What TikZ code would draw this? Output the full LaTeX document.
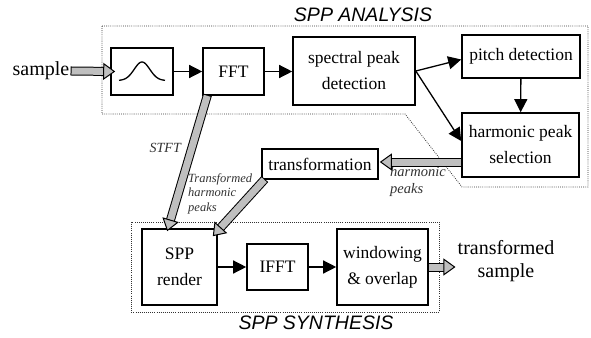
\documentclass[tikz,border=0pt]{standalone}
\usepackage{fontspec}
\setmainfont{Liberation Serif}
\newfontfamily\timesfont{Liberation Serif}
\newfontfamily\arialfont{Liberation Sans}
\usetikzlibrary{arrows.meta,calc}
\definecolor{fatgray}{gray}{0.75}
\newcommand\fatarrow[2]{\draw[fatout] #1 -- #2; \draw[fatin] #1 -- #2;}
\begin{document}
\begin{tikzpicture}[x=1pt,y=-1pt,
  box/.style={draw=black, line width=1.6pt, inner sep=0pt, align=center, font=\timesfont\fontsize{17.5}{26}\selectfont, text=black},
  arr/.style={line width=1.3pt, -{Triangle[length=13pt,width=13pt]}},
  zone/.style={draw=black!80, line width=0.8pt, dash pattern=on 0.8pt off 1.3pt},
  outer/.style={font=\timesfont\fontsize{20}{23}\selectfont, align=center, inner sep=2pt, text=black},
  ital/.style={text=black!80, align=left, inner sep=0pt},
  title/.style={font=\arialfont\itshape\fontsize{19.5}{22}\selectfont, inner sep=0pt},
  fatout/.style={line width=9pt, draw=black, shorten >=7pt, shorten <=-1pt},
  fatin/.style={line width=7pt, draw=fatgray, -{Triangle[length=12pt,width=17pt,line width=1pt 0 0,color=black,fill=fatgray]}},
]
\fill[white] (0,0) rectangle (591,337);
\useasboundingbox (0,0) rectangle (591,337);
% zones
\draw[zone] (102,26) -- (588,26) -- (588,187) -- (462,187) -- (405,114) -- (102,114) -- cycle;
\draw[zone] (131,222) rectangle (439,312);
% boxes
\node[box, minimum width=62pt, minimum height=47pt] (filt) at (142,71.5) {};
\node[box, minimum width=61pt, minimum height=47pt] (fft) at (233.5,71.5) {FFT};
\node[box, minimum width=122pt, minimum height=68pt] (spd) at (354,71) {spectral peak\\detection};
\node[box, minimum width=118pt, minimum height=43pt] (pitch) at (521,56.5) {pitch detection};
\node[box, minimum width=117pt, minimum height=64pt] (hps) at (520.5,145) {harmonic peak\\selection};
\node[box, minimum width=116pt, minimum height=30pt] (trans) at (320,164) {transformation};
\node[box, minimum width=75pt, minimum height=76pt] (spp) at (179.5,267) {SPP\\render};
\node[box, minimum width=61pt, minimum height=46pt] (ifft) at (277.5,267) {IFFT};
\node[box, minimum width=91pt, minimum height=76pt] (win) at (382.5,267) {windowing\\\& overlap};
% bell curve
\draw[line width=1.3pt, shift={(filt.center)}] plot[domain=-23:23, samples=60, smooth] (\x, {9-18.5*exp(-(\x/11)^2)});
% labels
\node[outer] (sample) at (41,71) {sample};
\node[outer] (tout) at (506,261.5) {transformed\\sample};
\node[title] (ta) at (363,15) {SPP ANALYSIS};
\node[title] (ts) at (316,323) {SPP SYNTHESIS};
\node[ital, font=\timesfont\itshape\fontsize{14}{16}\selectfont, anchor=east] (stft) at (181,148) {STFT};
\node[ital, font=\timesfont\itshape\fontsize{12.5}{14.5}\selectfont, anchor=north west] (thp) at (188,173) {Transformed\\harmonic\\peaks};
\node[ital, font=\timesfont\itshape\fontsize{14.5}{17}\selectfont, anchor=north west] (hpk) at (390,166) {harmonic\\peaks};
% black arrows
\draw[arr] (filt.east) -- (filt.east -| fft.west);
\draw[arr] (fft.east) -- (fft.east -| spd.west);
\draw[arr] (spd.east) -- ($(pitch.west)+(0,3)$);
\draw[arr] (spd.east) -- ($(hps.west)+(0,-4)$);
\draw[arr] (pitch) -- (hps);
\draw[arr] (spp.east) -- (spp.east -| ifft.west);
\draw[arr] (ifft.east) -- (ifft.east -| win.west);
% fat arrows
\fatarrow{(sample.east)}{($(filt.west)+(5,0)$)}
\fatarrow{($(fft.south west)+(5,0)$)}{($(spp.north west)+(26,3)$)}
\fatarrow{($(trans.south west)+(3,0)$)}{($(spp.north east)+(-5,8)$)}
\fatarrow{($(hps.west)+(0,17)$)}{($(trans.east)+(1,-2)$)}
\fatarrow{(win.east)}{(win.east -| tout.west)}
\end{tikzpicture}
\end{document}
